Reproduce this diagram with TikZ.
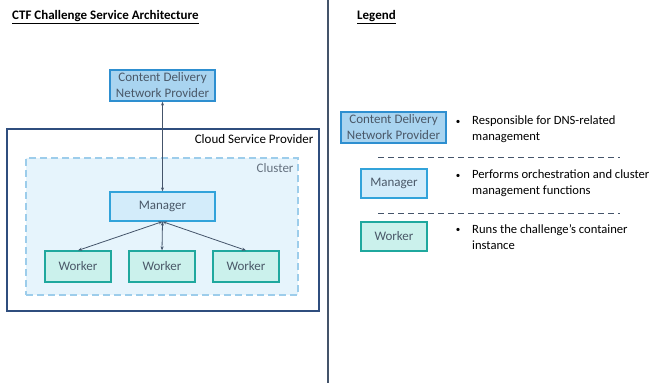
\documentclass[tikz,border=0pt]{standalone}
\usepackage{fontspec}
\setmainfont{Carlito}
\usepackage{xcolor}
\definecolor{CdnFill}{HTML}{A9D4F0}
\definecolor{CdnLine}{HTML}{2E8FD0}
\definecolor{MgrFill}{HTML}{D3ECFA}
\definecolor{MgrLine}{HTML}{32A3DA}
\definecolor{WrkFill}{HTML}{CBF1EC}
\definecolor{WrkLine}{HTML}{1FA89E}
\definecolor{ClusterFill}{HTML}{E6F4FC}
\definecolor{ClusterLine}{HTML}{9DCDEB}
\definecolor{CloudLine}{HTML}{2F4E7E}
\definecolor{BoxText}{HTML}{4A5868}
\definecolor{LineDark}{HTML}{44546A}
\usepackage{tikz}
\usetikzlibrary{arrows.meta, positioning}

\begin{document}
\begin{tikzpicture}[
  x=1pt, y=-1pt,
  font=\fontsize{13}{16}\selectfont,
  cdn/.style={
    rectangle, minimum width=105pt, minimum height=31pt,
    text centered, align=center, inner sep=0pt,
    draw=CdnLine, fill=CdnFill, line width=1.2pt, text=BoxText
  },
  mgr/.style={
    rectangle, minimum height=29pt,
    text centered, inner sep=0pt,
    draw=MgrLine, fill=MgrFill, line width=1.2pt, text=BoxText
  },
  wrk/.style={
    rectangle, minimum width=66pt, minimum height=31pt,
    text centered, inner sep=0pt,
    draw=WrkLine, fill=WrkFill, line width=1.2pt, text=BoxText
  },
  desc/.style={align=left, anchor=west, inner sep=0pt, font=\fontsize{12.6}{16}\selectfont},
  dot/.style={inner sep=0pt, font=\fontsize{9}{10}\selectfont},
  arr/.style={{Stealth[length=4pt,width=3pt]}-{Stealth[length=4pt,width=3pt]}, line width=0.8pt, color=LineDark},
  sep/.style={line width=1pt, color=LineDark, dash pattern=on 6pt off 4pt},
]
\useasboundingbox (0,0) rectangle (652,383);

% headings and divider
\node[anchor=west, inner sep=0pt] (title) at (12,17) {\underline{\textbf{CTF Challenge Service Architecture}}};
\node[anchor=west, inner sep=0pt] (legend) at (357,17) {\underline{\textbf{Legend}}};
\draw[line width=1.2pt, color=LineDark] (328,0) -- (328,383);

% architecture
\node[rectangle, draw=CloudLine, line width=1.4pt, minimum width=312pt, minimum height=182pt] (cloud) at (163,220) {};
\node[anchor=north east, inner sep=0pt] at ([xshift=-6pt, yshift=-6pt]cloud.north east) {Cloud Service Provider};
\node[rectangle, draw=ClusterLine, fill=ClusterFill, line width=1.4pt, dash pattern=on 7pt off 4pt,
      minimum width=272pt, minimum height=137pt] (cluster) at (162,226.5) {};
\node[anchor=north east, inner sep=0pt, text=BoxText!85] at ([xshift=-5pt, yshift=-6pt]cluster.north east) {Cluster};

\node[cdn] (cdn) at (162.5,85.5) {Content Delivery\\Network Provider};
\node[mgr, minimum width=105pt] (mgr) at (162.5,206.5) {Manager};
\node[wrk] (w1) at (78,266.5) {Worker};
\node[wrk] (w2) at (162,266.5) {Worker};
\node[wrk] (w3) at (246,266.5) {Worker};

\draw[arr] (cdn.south) -- (mgr.north);
\draw[arr] (mgr.south) -- (w1.north);
\draw[arr] (mgr.south) -- (w2.north);
\draw[arr] (mgr.south) -- (w3.north);

% legend entries
\node[cdn] (lcdn) at (393.5,127.5) {Content Delivery\\Network Provider};
\node[mgr, minimum width=66pt] (lmgr) at (394,183.5) {Manager};
\node[wrk, minimum height=29pt] (lwrk) at (394,236.5) {Worker};

\node[dot] (b1) at (458,122) {\textbullet};
\node[desc] (d1) at (472,129) {Responsible for DNS-related\\management};
\node[dot] (b2) at (458,176) {\textbullet};
\node[desc] (d2) at (472,183) {Performs orchestration and cluster\\management functions};
\node[dot] (b3) at (458,230) {\textbullet};
\node[desc] (d3) at (472,237) {Runs the challenge’s container\\instance};

\draw[sep] (378,157) -- (620,157);
\draw[sep] (378,213) -- (620,213);

\end{tikzpicture}
\end{document}
